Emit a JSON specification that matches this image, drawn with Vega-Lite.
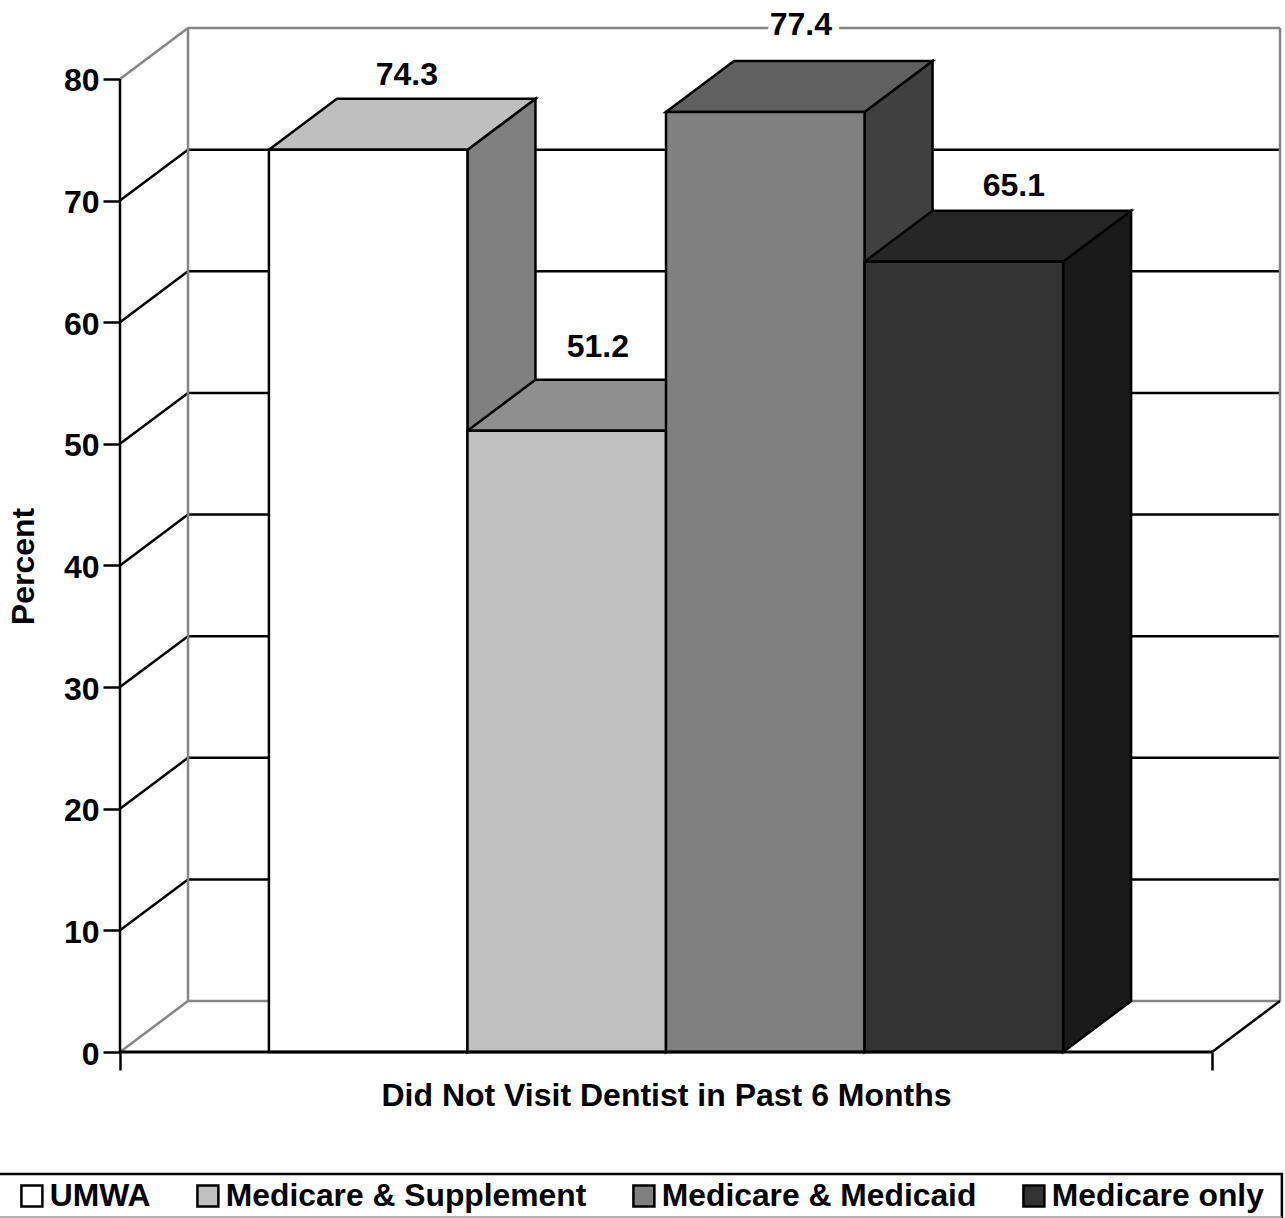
{
"$schema":"https://vega.github.io/schema/vega-lite/v6.json",
"width":1160,"height":1024,
"autosize":{"type":"none"},
"padding":{"left":120,"top":28,"right":5,"bottom":166},
"background":"white",
"config":{"view":{"stroke":null},"font":"Liberation Sans"},
"datasets":{
"bars":[
{"series":"UMWA","slot":0,"value":74.3},
{"series":"Medicare & Supplement","slot":1,"value":51.2},
{"series":"Medicare & Medicaid","slot":2,"value":77.4},
{"series":"Medicare only","slot":3,"value":65.1}],
"ticks":[{"tick":0},{"tick":10},{"tick":20},{"tick":30},{"tick":40},{"tick":50},{"tick":60},{"tick":70},{"tick":80}],
"edges":[{"edge":"left wall","xa":-0.4075,"ya":4.19,"yb":84.19},{"edge":"right wall","xa":5.0925,"ya":4.19,"yb":84.19}],
"axes":[{"edge":"floor side","xa":4.75,"xb":5.0925,"ya":0,"yb":4.19},{"edge":"y axis","xa":-0.75,"xb":-0.75,"ya":0,"yb":80}],
"base":[{"edge":"x axis","xa":-0.75,"xb":4.75,"ya":0}],
"box":[{"edge":"legend box","xa":-1.4,"xb":5.102,"ya":-10.03,"yb":-13.9}],
"boxend":[{"edge":"legend base","xa":-1.4,"xb":5.102,"ya":-13.57}]
},
"data":{"name":"bars"},
"encoding":{
"x":{"field":"xa","type":"quantitative","scale":{"domain":[-0.75,5.0925],"nice":false,"zero":false},
"axis":{"values":[-0.75,4.75],"grid":false,"domain":false,"labels":false,"tickColor":"black","tickWidth":2.5,"tickSize":18,
"title":"Did Not Visit Dentist in Past 6 Months","titleFont":"Liberation Sans","titleFontWeight":"bold","titleFontSize":32,"titleColor":"black","titleX":546,"titleY":43,"titleBaseline":"middle","titleAnchor":"middle"}},
"y":{"field":"ya","type":"quantitative","scale":{"domain":[0,84.19],"nice":false,"zero":false},
"axis":{"values":[0,10,20,30,40,50,60,70,80],"grid":false,"domain":false,"tickColor":"black","tickWidth":2.5,"tickSize":17,"labelPadding":4,"labelOffset":2,"labelFont":"Liberation Sans","labelFontWeight":"bold","labelFontSize":32,"labelColor":"black",
"title":"Percent","titleFont":"Liberation Sans","titleFontWeight":"bold","titleFontSize":32,"titleColor":"black","titleX":-97,"titleY":538,"titleAngle":270,"titleBaseline":"middle","titleAlign":"center"}}
},
"layer":[
{"data":{"name":"ticks"},
"transform":[{"calculate":"-0.75+0.3425","as":"xa"},{"calculate":"5.0925","as":"xb"},{"calculate":"datum.tick+4.19","as":"ya"}],
"mark":{"type":"rule","strokeWidth":2.5},
"encoding":{"x2":{"field":"xb"},
"color":{"condition":{"test":"datum.tick%80==0","value":"#858585"},"value":"black"}}},
{"data":{"name":"ticks"},
"transform":[{"calculate":"-0.75","as":"xa"},{"calculate":"-0.75+0.3425","as":"xb"},{"calculate":"datum.tick","as":"ya"},{"calculate":"datum.tick+4.19","as":"yb"}],
"mark":{"type":"rule","strokeWidth":2.5},
"encoding":{"x2":{"field":"xb"},"y2":{"field":"yb"},
"color":{"condition":{"test":"datum.tick%80==0","value":"#858585"},"value":"black"}}},
{"data":{"name":"edges"},"mark":{"type":"rule","color":"#858585","strokeWidth":2.5},
"encoding":{"y2":{"field":"yb"}}},
{"data":{"name":"axes"},"mark":{"type":"rule","color":"black","strokeWidth":2.5},
"encoding":{"x2":{"field":"xb"},"y2":{"field":"yb"}}},
{"transform":[{"calculate":"[0,1]","as":"corner"},{"flatten":["corner"]},
{"calculate":"datum.slot+1+datum.corner*0.3425","as":"xa"},{"calculate":"datum.value-0.12+datum.corner*4.19","as":"ya"},{"calculate":"datum.corner*4.19","as":"yb"}],
"mark":{"type":"area","stroke":"black","strokeWidth":2.5,"strokeJoin":"miter","opacity":1},
"encoding":{"y2":{"field":"yb"},"color":{"field":"series","legend":null,"sort":null,
"scale":{"domain":["UMWA","Medicare & Supplement","Medicare & Medicaid","Medicare only"],"range":["#808080","#5f5f5f","#404040","#1a1a1a"]}}}},
{"transform":[{"calculate":"[0,1]","as":"corner"},{"flatten":["corner"]},
{"calculate":"datum.slot+datum.corner*0.3425","as":"xa"},{"calculate":"datum.slot+1+datum.corner*0.3425","as":"xb"},{"calculate":"datum.value-0.12+datum.corner*4.19","as":"ya"}],
"mark":{"type":"area","orient":"horizontal","stroke":"black","strokeWidth":2.5,"strokeJoin":"miter","opacity":1},
"encoding":{"x2":{"field":"xb"},"color":{"field":"series","legend":null,"sort":null,
"scale":{"domain":["UMWA","Medicare & Supplement","Medicare & Medicaid","Medicare only"],"range":["#bfbfbf","#8f8f8f","#606060","#262626"]}}}},
{"transform":[{"calculate":"datum.slot","as":"xa"},{"calculate":"datum.slot+1","as":"xb"},{"calculate":"datum.value-0.12","as":"ya"},{"calculate":"0","as":"yb"}],
"mark":{"type":"rect","stroke":"black","strokeWidth":2.5,"opacity":1},
"encoding":{"x2":{"field":"xb"},"y2":{"field":"yb"},"color":{"field":"series","sort":null,
"scale":{"domain":["UMWA","Medicare & Supplement","Medicare & Medicaid","Medicare only"],"range":["#ffffff","#c0c0c0","#808080","#333333"]},
"legend":{"orient":"none","legendX":-104,"legendY":1152,"direction":"horizontal","columns":4,"title":null,"padding":0,"columnPadding":41,
"symbolType":"square","symbolSize":440,"symbolStrokeColor":"black","symbolStrokeWidth":2.5,"symbolOpacity":1,"labelOffset":2,
"labelFont":"Liberation Sans","labelFontWeight":"bold","labelFontSize":31.8,"labelColor":"black","labelLimit":600}}}},
{"data":{"name":"base"},"mark":{"type":"rule","color":"black","strokeWidth":3},
"encoding":{"x2":{"field":"xb"}}},
{"transform":[{"filter":"datum.slot==2"},{"calculate":"2.679","as":"xa"},{"calculate":"84.44","as":"ya"}],
"mark":{"type":"text","font":"Liberation Sans","fontWeight":"bold","fontSize":32,"stroke":"white","strokeWidth":14,"baseline":"middle","align":"center"},
"encoding":{"text":{"field":"value","type":"quantitative","format":".1f"}}},
{"transform":[{"calculate":"[0.695,1.657,2.679,3.752][datum.slot]","as":"xa"},{"calculate":"[80.33,57.97,84.44,71.2][datum.slot]","as":"ya"}],
"mark":{"type":"text","font":"Liberation Sans","fontWeight":"bold","fontSize":32,"fill":"black","baseline":"middle","align":"center"},
"encoding":{"text":{"field":"value","type":"quantitative","format":".1f"}}},
{"data":{"name":"box"},"mark":{"type":"rect","fill":"transparent","stroke":"black","strokeWidth":2.5},
"encoding":{"x2":{"field":"xb"},"y2":{"field":"yb"}}},
{"data":{"name":"boxend"},"mark":{"type":"rule","color":"#999999","strokeWidth":1.5},
"encoding":{"x2":{"field":"xb"}}}
],
"resolve":{"scale":{"color":"independent"}}
}
